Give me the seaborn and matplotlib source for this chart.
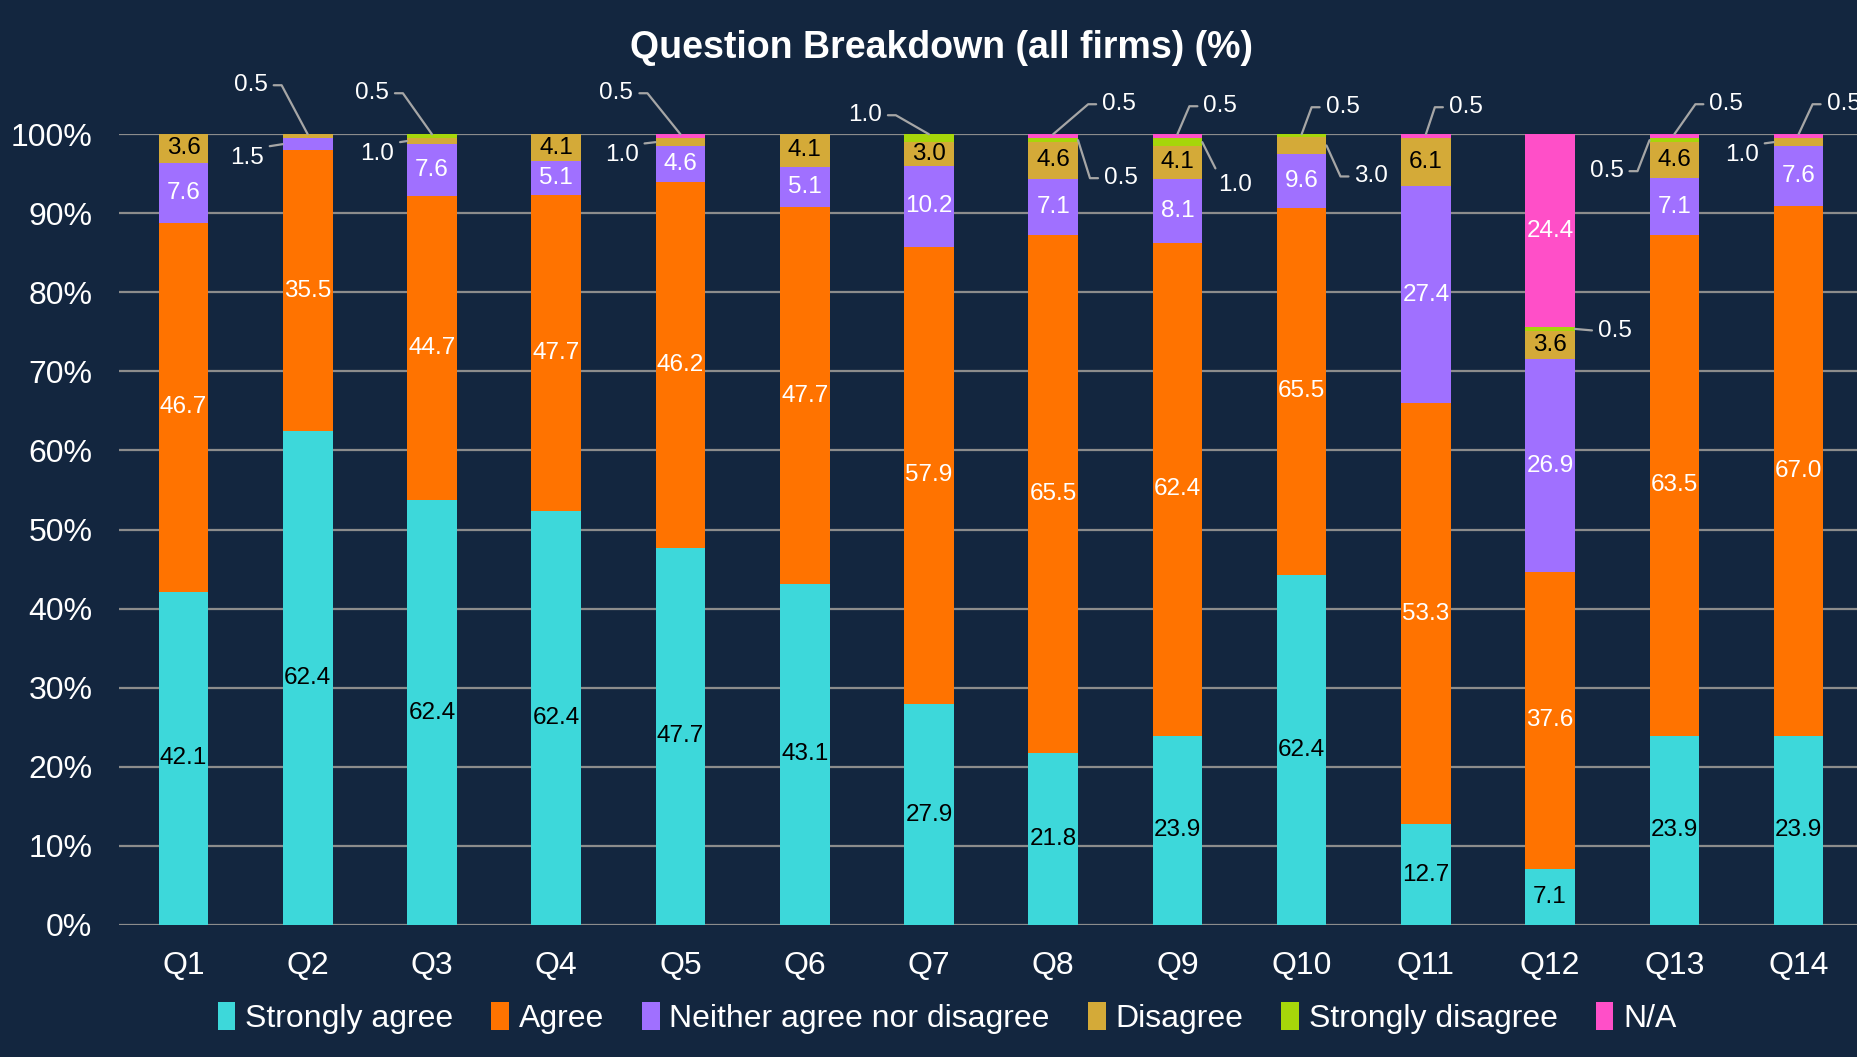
import numpy as np
import pandas as pd
import matplotlib
matplotlib.use('Agg')  # headless
import matplotlib.pyplot as plt
import seaborn as sns
from matplotlib.patches import Patch

# ── data (raw counts as printed on the chart; bars are shown as 100% stacks) ──
questions = ['Q1', 'Q2', 'Q3', 'Q4', 'Q5', 'Q6', 'Q7',
             'Q8', 'Q9', 'Q10', 'Q11', 'Q12', 'Q13', 'Q14']
responses = ['Strongly agree', 'Agree', 'Neither agree nor disagree',
             'Disagree', 'Strongly disagree', 'N/A']

strongly_agree = [42.1, 62.4, 62.4, 62.4, 47.7, 43.1, 27.9, 21.8, 23.9, 62.4, 12.7, 7.1, 23.9, 23.9]
agree = [46.7, 35.5, 44.7, 47.7, 46.2, 47.7, 57.9, 65.5, 62.4, 65.5, 53.3, 37.6, 63.5, 67.0]
neither = [7.6, 1.5, 7.6, 5.1, 4.6, 5.1, 10.2, 7.1, 8.1, 9.6, 27.4, 26.9, 7.1, 7.6]
disagree = [3.6, 0.5, 1.0, 4.1, 1.0, 4.1, 3.0, 4.6, 4.1, 3.0, 6.1, 3.6, 4.6, 1.0]
strongly_disagree = [0, 0, 0.5, 0, 0, 0, 1.0, 0.5, 1.0, 0.5, 0, 0.5, 0.5, 0]
not_applicable = [0, 0, 0, 0, 0.5, 0, 0, 0.5, 0.5, 0, 0.5, 24.4, 0.5, 0.5]

# ── styling ───────────────────────────────────────────────────────────────────
BG = '#13263F'
colors = ['#3DD8DA', '#FF7300', '#A070FF', '#D4AA38', '#A6D60A', '#FF4FC8']
text_colors = ['black', 'white', 'white', 'black', 'white', 'white']

# small segments labelled outside the bar: (anchor, dx px, dy px, leader style)
callouts = {
    ('Q2', 'Disagree'): ('top', -57, 49, 'e'),
    ('Q2', 'Neither agree nor disagree'): ('left', -36, -14, 's'),
    ('Q3', 'Strongly disagree'): ('top', -60, 41, 'e'),
    ('Q3', 'Disagree'): ('left', -30, -13, 's'),
    ('Q5', 'N/A'): ('top', -64, 41, 'e'),
    ('Q5', 'Disagree'): ('left', -34, -13, 's'),
    ('Q7', 'Strongly disagree'): ('top', -64, 19, 'e'),
    ('Q8', 'N/A'): ('top', 66, 30, 'e'),
    ('Q8', 'Strongly disagree'): ('right', 43, -38, 'e'),
    ('Q9', 'N/A'): ('top', 43, 28, 'e'),
    ('Q9', 'Strongly disagree'): ('right', 33, -43, 's'),
    ('Q10', 'Strongly disagree'): ('top', 41, 27, 'e'),
    ('Q10', 'Disagree'): ('right', 45, -31, 'e'),
    ('Q11', 'N/A'): ('top', 40, 27, 'e'),
    ('Q12', 'Strongly disagree'): ('right', 40, -2, 's'),
    ('Q13', 'N/A'): ('top', 52, 30, 'e'),
    ('Q13', 'Strongly disagree'): ('left', -43, -31, 'e'),
    ('Q14', 'N/A'): ('top', 45, 30, 'e'),
    ('Q14', 'Disagree'): ('left', -32, -13, 's'),
}

sns.set_theme(style='dark')
plt.rcParams['font.family'] = ['Liberation Sans', 'DejaVu Sans']

df = pd.DataFrame(dict(zip(responses, [strongly_agree, agree, neither, disagree,
                                       strongly_disagree, not_applicable])),
                  index=questions)
share = df.div(df.sum(axis=1), axis=0)
top = share.cumsum(axis=1)
bottom = top - share

fig = plt.figure(figsize=(18.57, 10.57), dpi=100, facecolor=BG)
ax = fig.add_axes([0.064, 0.125, 0.936, 0.748])
ax.set_facecolor(BG)

BAR_W = 0.4
# draw cumulative totals from the top layer down so each layer shows its slice
for resp, col in reversed(list(zip(responses, colors))):
    sns.barplot(x=questions, y=top[resp].values, color=col, width=BAR_W,
                saturation=1, errorbar=None, ax=ax, zorder=2, linewidth=0)

ax.set_xlim(-0.52, 13.47)
ax.set_ylim(0, 1)
ax.set_yticks(np.arange(0, 1.01, 0.1))
ax.set_yticklabels([f'{t:.0%}' for t in np.arange(0, 1.01, 0.1)])
ax.grid(axis='y', color='#8C8C8C', linewidth=1.6, zorder=0)
ax.grid(axis='x', visible=False)
ax.set_axisbelow(True)
for s in ax.spines.values():
    s.set_visible(False)
ax.tick_params(axis='both', length=0, colors='white', labelsize=23)
ax.tick_params(axis='y', pad=19)
ax.tick_params(axis='x', pad=19)
ax.set_xlabel('')
ax.set_ylabel('')

LBL_SIZE = 17.5
HALF_TXT = 19  # approx half width of a "0.5" label in px
for i, q in enumerate(questions):
    for j, resp in enumerate(responses):
        v = df.loc[q, resp]
        if v == 0:
            continue
        label = f'{v:.1f}'
        lo, hi = bottom.loc[q, resp], top.loc[q, resp]
        key = (q, resp)
        if key not in callouts:
            ax.text(i, (lo + hi) / 2, label, ha='center', va='center',
                    color=text_colors[j], fontsize=LBL_SIZE, zorder=4)
            continue
        anchor, dx, dy, style = callouts[key]
        if anchor == 'top':
            xy = (i, hi)
        elif anchor == 'left':
            xy = (i - BAR_W / 2, (lo + hi) / 2)
        else:
            xy = (i + BAR_W / 2, (lo + hi) / 2)
        sgn = 1 if dx > 0 else -1
        if style == 'e':
            cx = dx - sgn * (HALF_TXT + 12)
            ang = np.degrees(np.arctan2(dy, cx))
            conn = f'angle,angleA=0,angleB={ang:.1f},rad=0'
            relpos = (0, 0.5) if dx > 0 else (1, 0.5)
        else:
            conn = 'arc3'
            ry = 1 if dy < -5 else (0 if dy > 5 else 0.5)
            relpos = (0 if dx > 0 else 1, ry)
        ax.annotate(label, xy=xy, xytext=(dx, dy), textcoords='offset pixels',
                    ha='center', va='center', color='white', fontsize=LBL_SIZE,
                    annotation_clip=False, zorder=5,
                    arrowprops=dict(arrowstyle='-', color='#A6A6A6', lw=1.6,
                                    connectionstyle=conn, relpos=relpos,
                                    shrinkA=2, shrinkB=0))

fig.text(0.507, 0.955, 'Question Breakdown (all firms) (%)', ha='center',
         va='center', color='white', fontsize=27, fontweight='bold')

handles = [Patch(facecolor=c, edgecolor='none', label=r) for r, c in zip(responses, colors)]
leg = fig.legend(handles=handles, loc='center', bbox_to_anchor=(0.51, 0.037),
                 ncol=6, frameon=False, fontsize=23, handlelength=0.55,
                 handleheight=1.0, handletextpad=0.3, columnspacing=1.2)
for t in leg.get_texts():
    t.set_color('white')

fig.savefig('out.png', dpi=100, facecolor=BG)
